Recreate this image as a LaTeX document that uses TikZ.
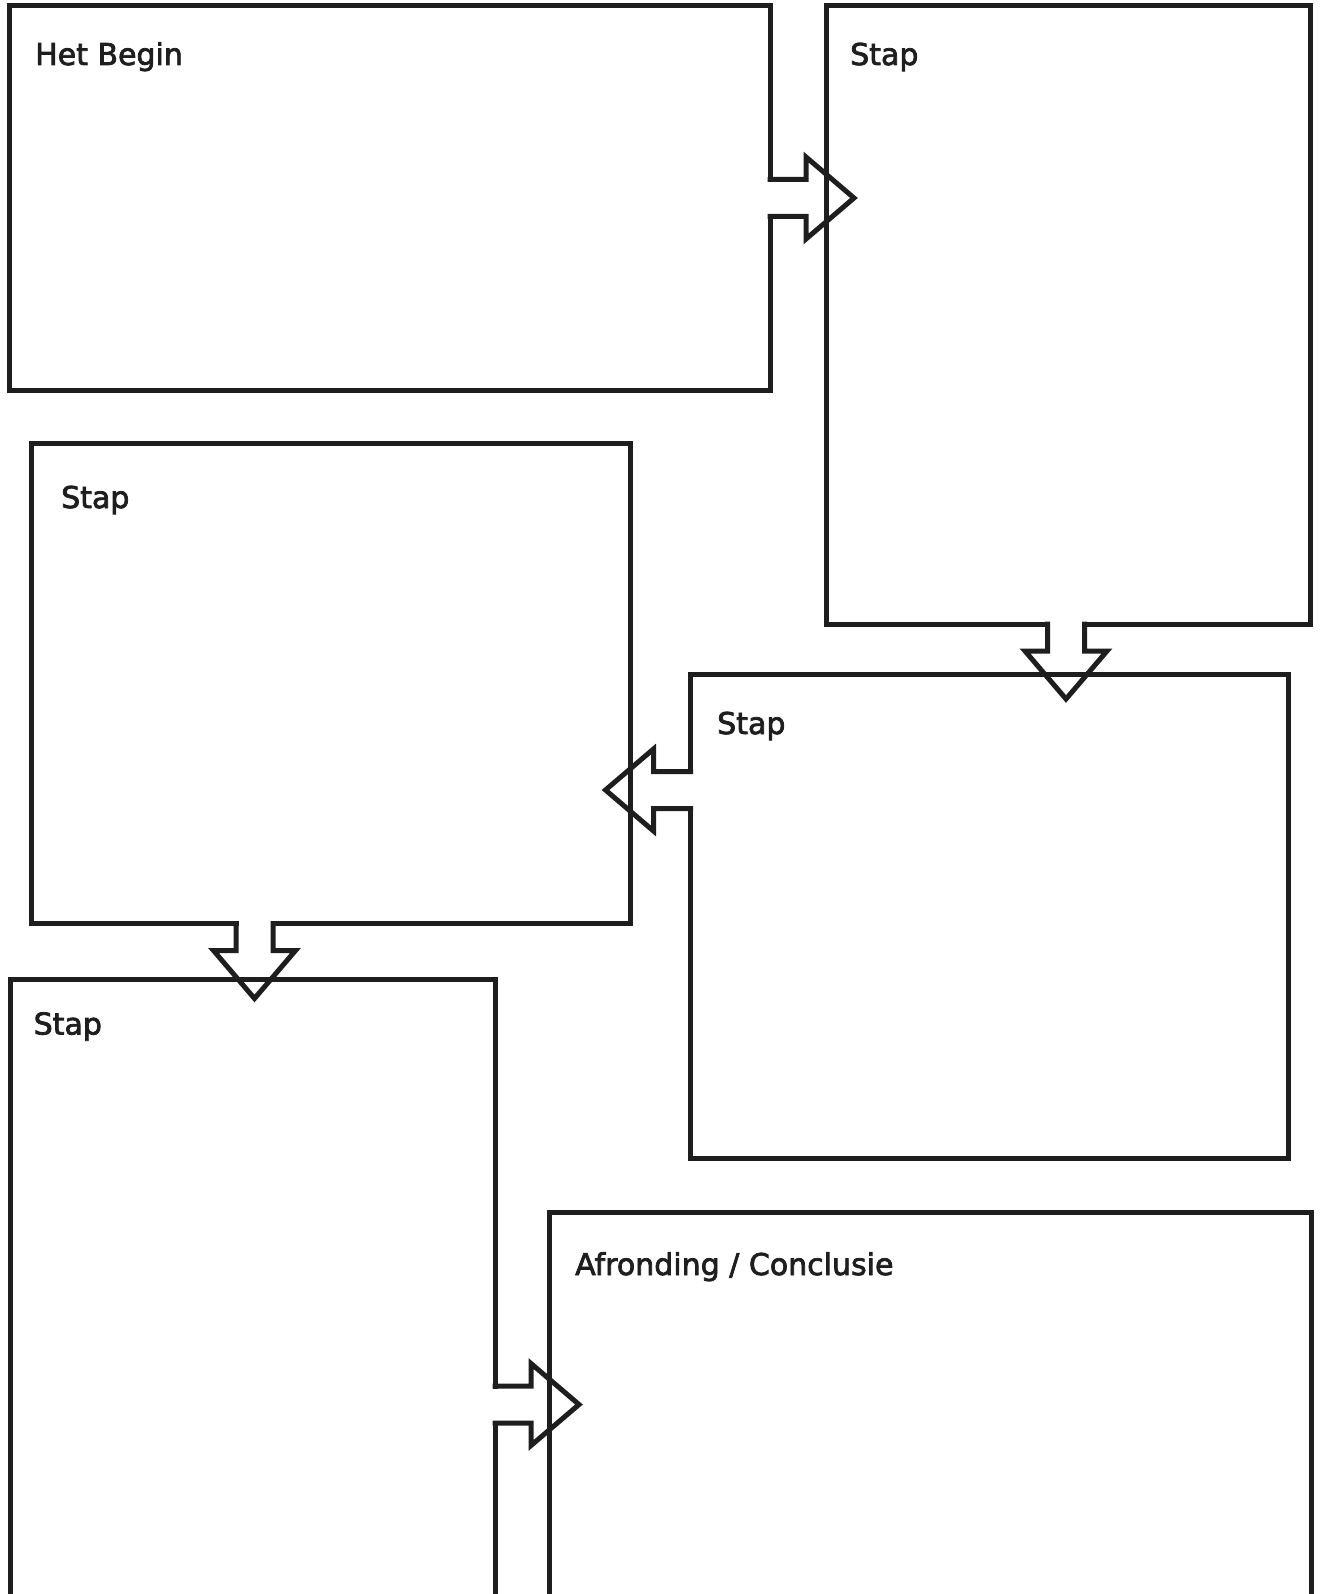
\documentclass[tikz,border=0pt]{standalone}
\usepackage{fontspec}
\newfontfamily\titlefont[FakeBold=2.5]{DejaVu Sans}
\usepackage{tikz}
\usetikzlibrary{calc,positioning}
\definecolor{inkblack}{RGB}{30,30,30}
\tikzstyle{stepbox} = [rectangle, draw=inkblack, line width=5pt, inner sep=0pt, outer sep=0pt]
\tikzstyle{boxtitle} = [anchor=base west, inner sep=0pt, font=\titlefont\fontsize{30}{35}\selectfont, text=inkblack]
\tikzstyle{blockline} = [draw=inkblack, line width=5pt]
% block arrow: start point on box edge, direction, stem length
\newcommand{\blockarrow}[3]{%
  \begin{scope}[shift={(#1)}, rotate=#2]
    \fill[white] (-3,-16) rectangle (3,16);
    \draw[blockline] (-2.5,-18.5) -- (#3,-18.5) -- (#3,-41) -- ({#3+48},0) -- (#3,41) -- (#3,18.5) -- (-2.5,18.5);
  \end{scope}}

\begin{document}
\begin{tikzpicture}[x=1pt, y=-1pt]
\clip (0,0) rectangle (1319,1594);
% Boxes
\node[stepbox, minimum width=761pt, minimum height=384pt] (begin) at (389.5,198) {};
\node[stepbox, minimum width=484pt, minimum height=618pt] (stap1) at (1068,315) {};
\node[stepbox, minimum width=597.5pt, minimum height=484pt] (stap2) at (989.25,916) {};
\node[stepbox, minimum width=599.5pt, minimum height=480.5pt] (stap3) at (330.75,683.25) {};
\node[stepbox, minimum width=485pt, minimum height=640.5pt] (stap4) at (252.5,1299.75) {};
\node[stepbox, minimum width=762pt, minimum height=408pt] (einde) at (930,1416) {};
% Titles
\node[boxtitle] (begin-title) at ($(begin.north west)+(26,59)$) {Het Begin};
\node[boxtitle] (stap1-title) at ($(stap1.north west)+(24,59)$) {Stap};
\node[boxtitle] (stap2-title) at ($(stap2.north west)+(26.5,60)$) {Stap};
\node[boxtitle] (stap3-title) at ($(stap3.north west)+(30,65)$) {Stap};
\node[boxtitle] (stap4-title) at ($(stap4.north west)+(23.5,55)$) {Stap};
\node[boxtitle] (einde-title) at ($(einde.north west)+(26,63)$) {Afronding / Conclusie};
% Arrows
\blockarrow{begin.east}{0}{36}
\blockarrow{$(stap1.south)+(-2,0)$}{-90}{27}
\blockarrow{$(stap2.north west)+(0,116)$}{180}{37}
\blockarrow{$(stap3.south west)+(223.5,0)$}{-90}{27}
\blockarrow{$(stap4.north east)+(0,425)$}{0}{36}
\end{tikzpicture}
\end{document}
